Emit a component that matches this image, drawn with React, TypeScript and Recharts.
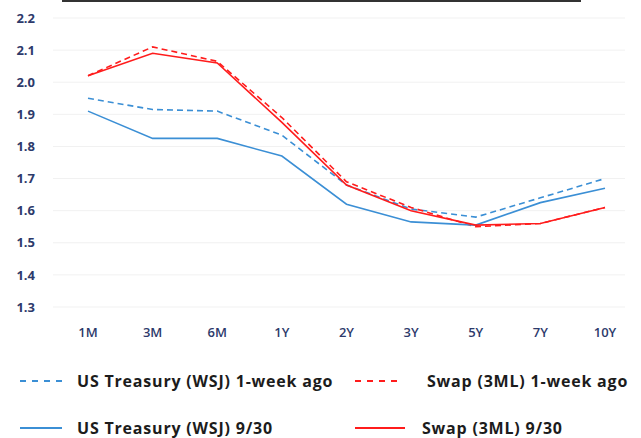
import { CartesianGrid, Line, LineChart, XAxis, YAxis } from "recharts";

const tenors = ["1M", "3M", "6M", "1Y", "2Y", "3Y", "5Y", "7Y", "10Y"];
const ustWeekAgo = [1.95, 1.915, 1.91, 1.835, 1.68, 1.605, 1.58, 1.64, 1.7];
const ust930 = [1.91, 1.825, 1.825, 1.77, 1.62, 1.565, 1.555, 1.625, 1.67];
const swapWeekAgo = [2.02, 2.11, 2.065, 1.89, 1.69, 1.61, 1.55, 1.56, 1.61];
const swap930 = [2.02, 2.09, 2.06, 1.875, 1.68, 1.6, 1.555, 1.56, 1.61];
const yTicks = [1.3, 1.4, 1.5, 1.6, 1.7, 1.8, 1.9, 2.0, 2.1, 2.2];

const BLUE = "#3b8fd5";
const RED = "#ff1c1c";
const NAVY = "#2d3a6b";

const series = [
  { key: "ustWeekAgo", name: "US Treasury (WSJ) 1-week ago", color: BLUE, dash: "6 4" },
  { key: "swapWeekAgo", name: "Swap (3ML) 1-week ago", color: RED, dash: "6 4" },
  { key: "ust930", name: "US Treasury (WSJ) 9/30", color: BLUE, dash: undefined },
  { key: "swap930", name: "Swap (3ML) 9/30", color: RED, dash: undefined },
];

const data = tenors.map((t, i) => ({
  tenor: t,
  ustWeekAgo: ustWeekAgo[i],
  ust930: ust930[i],
  swapWeekAgo: swapWeekAgo[i],
  swap930: swap930[i],
}));

// legend slots: 2 columns x 2 rows
const legendSpots = [
  { left: 20, top: 370, sample: 46, gap: 11 },
  { left: 355, top: 370, sample: 46, gap: 26 },
  { left: 20, top: 417, sample: 42, gap: 15 },
  { left: 355, top: 417, sample: 50, gap: 17 },
];

export default function App() {
  return (
    <div style={{ position: "absolute", left: 0, top: 0, width: 641, height: 438, background: "#fff", fontFamily: "'Open Sans', sans-serif" }}>
      <div style={{ position: "absolute", left: 62, top: 0, width: 519, height: 2, background: "#333" }} />
      <LineChart width={641} height={438} data={data} margin={{ top: 18, right: 16, left: 0, bottom: 91 }}>
        <CartesianGrid stroke="#f1f1f1" vertical={false} />
        <XAxis
          dataKey="tenor"
          axisLine={false}
          tickLine={false}
          tickSize={0}
          tickMargin={21}
          height={40}
          padding={{ left: 35, right: 20 }}
          tick={{ fill: NAVY, fontSize: 13, fontWeight: 600 }}
          interval={0}
        />
        <YAxis
          domain={[1.3, 2.2]}
          ticks={yTicks}
          tickFormatter={(v: number) => v.toFixed(1)}
          axisLine={false}
          tickLine={false}
          tickSize={0}
          tickMargin={18}
          width={53}
          tick={{ fill: NAVY, fontSize: 13, fontWeight: 700 }}
        />
        {series.map((s) => (
          <Line
            key={s.key}
            dataKey={s.key}
            name={s.name}
            stroke={s.color}
            strokeWidth={1.6}
            strokeDasharray={s.dash}
            dot={false}
            activeDot={false}
            isAnimationActive={false}
          />
        ))}
      </LineChart>
      {series.map((s, i) => {
        const p = legendSpots[i];
        return (
          <div key={s.key} style={{ position: "absolute", left: p.left, top: p.top, height: 22, display: "flex", alignItems: "center" }}>
            <svg width={p.sample} height={4} style={{ marginRight: p.gap }}>
              <line x1={0} y1={2} x2={p.sample} y2={2} stroke={s.color} strokeWidth={2} strokeDasharray={s.dash ? "6 6" : undefined} />
            </svg>
            <span style={{ fontSize: 16, letterSpacing: 0.8, fontWeight: 700, color: "#1c1c1c", whiteSpace: "nowrap" }}>{s.name}</span>
          </div>
        );
      })}
    </div>
  );
}
